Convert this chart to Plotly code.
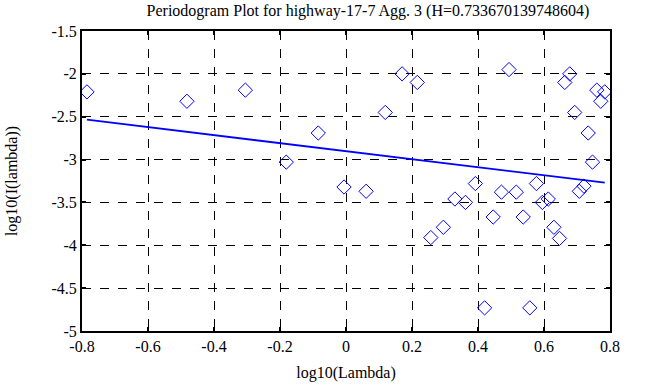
import plotly.graph_objects as go

# log10(Lambda) values of the periodogram points
log_lambda = [-0.785, -0.482, -0.305, -0.181, -0.084, -0.006, 0.061, 0.119, 0.170,
              0.216, 0.257, 0.295, 0.330, 0.362, 0.392, 0.420, 0.446, 0.471, 0.494,
              0.516, 0.537, 0.557, 0.577, 0.595, 0.613, 0.630, 0.647, 0.663, 0.678,
              0.693, 0.707, 0.721, 0.734, 0.747, 0.760, 0.772, 0.784]
# log10(I(lambda)) values
log_I = [-2.21, -2.32, -2.19, -3.03, -2.69, -3.32, -3.37, -2.45, -2.00,
         -2.10, -3.91, -3.79, -3.46, -3.50, -3.28, -4.73, -3.67, -3.38, -1.95,
         -3.38, -3.67, -4.73, -3.28, -3.50, -3.46, -3.79, -3.92, -2.10, -2.00,
         -2.45, -3.37, -3.31, -2.69, -3.03, -2.19, -2.32, -2.21]

# fitted line endpoints
fit_x = [-0.785, 0.784]
fit_y = [-2.535, -3.268]

x_ticks = [-0.8, -0.6, -0.4, -0.2, 0, 0.2, 0.4, 0.6, 0.8]
x_tick_text = ["-0.8", "-0.6", "-0.4", "-0.2", "0", "0.2", "0.4", "0.6", "0.8"]
y_ticks = [-5, -4.5, -4, -3.5, -3, -2.5, -2, -1.5]
y_tick_text = ["-5", "-4.5", "-4", "-3.5", "-3", "-2.5", "-2", "-1.5"]

font_family = "Liberation Serif, Times New Roman, serif"

fig = go.Figure()
fig.add_trace(go.Scatter(
    x=log_lambda, y=log_I, mode="markers",
    marker=dict(symbol="diamond-open", size=11, color="#0000ff",
                line=dict(width=1, color="#0000ff")),
    showlegend=False))
fig.add_trace(go.Scatter(
    x=fit_x, y=fit_y, mode="lines",
    line=dict(color="#0000ff", width=1.8),
    showlegend=False))

axis_common = dict(
    showline=True, linecolor="black", linewidth=2, mirror="allticks",
    ticks="inside", ticklen=4, tickwidth=2, tickcolor="black",
    showgrid=True, gridcolor="black", gridwidth=1, griddash="dash",
    zeroline=False, automargin=False,
    tickfont=dict(family=font_family, size=16, color="black"),
)

fig.update_xaxes(range=[-0.8, 0.8], tickvals=x_ticks, ticktext=x_tick_text,
                 title=dict(text="log10(Lambda)", font=dict(family=font_family, size=16, color="black"),
                            standoff=13),
                 **axis_common)
fig.update_yaxes(range=[-5, -1.5], tickvals=y_ticks, ticktext=y_tick_text,
                 title=dict(text="log10(I(lambda))", font=dict(family=font_family, size=16, color="black"),
                            standoff=30),
                 **axis_common)

fig.update_layout(
    width=663, height=387,
    margin=dict(l=82, r=53, t=31, b=56),
    paper_bgcolor="white", plot_bgcolor="white",
    title=dict(text="Periodogram Plot for highway-17-7 Agg. 3 (H=0.733670139748604)",
               font=dict(family=font_family, size=16, color="black"),
               x=0.555, xanchor="center", y=0.974, yanchor="middle"),
)

fig.write_html("out.html", config={"displayModeBar": False},
               post_script="document.body.style.margin='0';")
